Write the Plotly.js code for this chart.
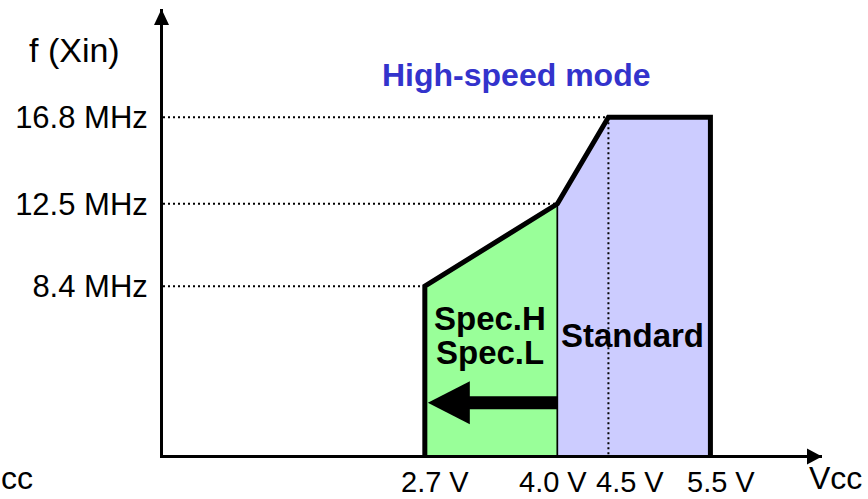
<!DOCTYPE html>
<html><head><meta charset="utf-8">
<script src="https://cdn.plot.ly/plotly-3.0.1.min.js"></script>
<style>html,body{margin:0;padding:0;background:#fff}#chart{width:868px;height:499px}</style>
</head><body><div id="chart"></div>
<script>
// ---- data ----
const vcc = [2.7, 4.0, 4.5, 5.5];          // supply voltage breakpoints (V)
const fmax = [8.4, 12.5, 16.8, 16.8];      // max f(Xin) at each breakpoint (MHz)
const xTickText = ["2.7 V", "4.0 V", "4.5 V", "5.5 V"];
const yTickVals = [8.4, 12.5, 16.8];
const yTickText = ["8.4 MHz", "12.5 MHz", "16.8 MHz"];
const regionLabels = ["Spec.H", "Spec.L", "Standard"];
const titleText = "High-speed mode";
const yAxisLabel = "f (Xin)";
const xAxisLabel = "Vcc";
const cutLabel = "cc";
const arrowLevel = 2.6;                    // MHz level of the Spec arrow

// ---- layout constants ----
const XR = [0.133, 6.594], YR = [0, 22.19];
const FONT = "Arial, 'Liberation Sans', sans-serif";
const xLabelNudge = [10, -4, 22, 11];      // px nudges so the close labels do not collide

const green = {
  x: [vcc[0], vcc[0], vcc[1], vcc[1]],
  y: [0, fmax[0], fmax[1], 0],
  type: "scatter", mode: "lines", fill: "toself", fillcolor: "#99FF99",
  line: {color: "#000", width: 1.5}, hoverinfo: "skip"
};
const blue = {
  x: [vcc[1], vcc[1], vcc[2], vcc[3], vcc[3]],
  y: [0, fmax[1], fmax[2], fmax[3], 0],
  type: "scatter", mode: "lines", fill: "toself", fillcolor: "#CCCCFF",
  line: {color: "#000", width: 1.5}, hoverinfo: "skip"
};
const gx = [], gy = [];
for (let i = 0; i < 3; i++) { gx.push(XR[0], vcc[i], null); gy.push(fmax[i], fmax[i], null); }
gx.push(vcc[2], vcc[2]); gy.push(fmax[2], 0);
const guides = {
  x: gx, y: gy, type: "scatter", mode: "lines", connectgaps: false,
  line: {color: "#000", width: 2, dash: "2px,3px"}, hoverinfo: "skip"
};
const boundary = {
  x: [vcc[0]].concat(vcc, [vcc[3]]),
  y: [0].concat(fmax, [0]),
  type: "scatter", mode: "lines",
  line: {color: "#000", width: 5}, hoverinfo: "skip"
};

function ann(text, x, y, size, bold, color, yanchor) {
  return {text: bold ? "<b>" + text + "</b>" : text, x: x, y: y, xref: "paper", yref: "paper",
    xanchor: "center", yanchor: yanchor || "middle", showarrow: false,
    font: {family: FONT, size: size, color: color || "#000"}};
}

const annotations = [
  ann(yAxisLabel, -0.134, 0.908, 34, false),
  ann(titleText, 0.536, 0.852, 32, true, "#3333CC"),
  ann(regionLabels[0], 0.496, 0.307, 33, true),
  ann(regionLabels[1], 0.496, 0.229, 33, true),
  ann(regionLabels[2], 0.713, 0.269, 33, true),
  ann(xAxisLabel, 1.020, -0.0975, 32, false, null, "bottom"),
  ann(cutLabel, -0.2215, -0.0975, 32, false, null, "bottom")
];
vcc.forEach((v, i) => annotations.push({
  text: xTickText[i], x: v, y: 0, xref: "x", yref: "paper",
  xanchor: "center", yanchor: "middle", xshift: xLabelNudge[i], yshift: -27,
  showarrow: false, font: {family: FONT, size: 29, color: "#000"}
}));

const layout = {
  width: 868, height: 499,
  margin: {l: 163, r: 46, t: 9, b: 44},
  paper_bgcolor: "#fff", plot_bgcolor: "#fff",
  showlegend: false, hovermode: false,
  xaxis: {range: XR, showgrid: false, zeroline: false, showline: true, linewidth: 3, linecolor: "#000",
    showticklabels: false, ticks: ""},
  yaxis: {range: YR, showgrid: false, zeroline: false, showline: true, linewidth: 3, linecolor: "#000",
    tickmode: "array", tickvals: yTickVals, ticktext: yTickText, ticks: "", ticklabelstandoff: 6,
    tickfont: {family: FONT, size: 31, color: "#000"}},
  annotations: annotations,
  shapes: [
    // axis arrow heads
    {type: "path", xref: "paper", yref: "paper", xsizemode: "pixel", ysizemode: "pixel",
     xanchor: 0, yanchor: 1, path: "M -9,-16 L -1.5,0 L 6,-16 Z",
     fillcolor: "#000", line: {width: 0}},
    {type: "path", xref: "paper", yref: "paper", xsizemode: "pixel", ysizemode: "pixel",
     xanchor: 1, yanchor: 0, path: "M 0,-1.5 L -15,6.5 L -15,-9.5 Z",
     fillcolor: "#000", line: {width: 0}},
    // Spec arrow: shaft + head
    {type: "line", xref: "x", yref: "y", x0: vcc[0] + 0.35, x1: vcc[1], y0: arrowLevel, y1: arrowLevel,
     line: {color: "#000", width: 13}},
    {type: "path", xref: "x", yref: "y", xsizemode: "pixel", ysizemode: "pixel",
     xanchor: vcc[0], yanchor: arrowLevel, path: "M 3,0 L 45,21.5 L 45,-21.5 Z",
     fillcolor: "#000", line: {width: 0}}
  ]
};

Plotly.newPlot("chart", [green, blue, guides, boundary], layout, {staticPlot: true, displayModeBar: false});
</script>
</body></html>
